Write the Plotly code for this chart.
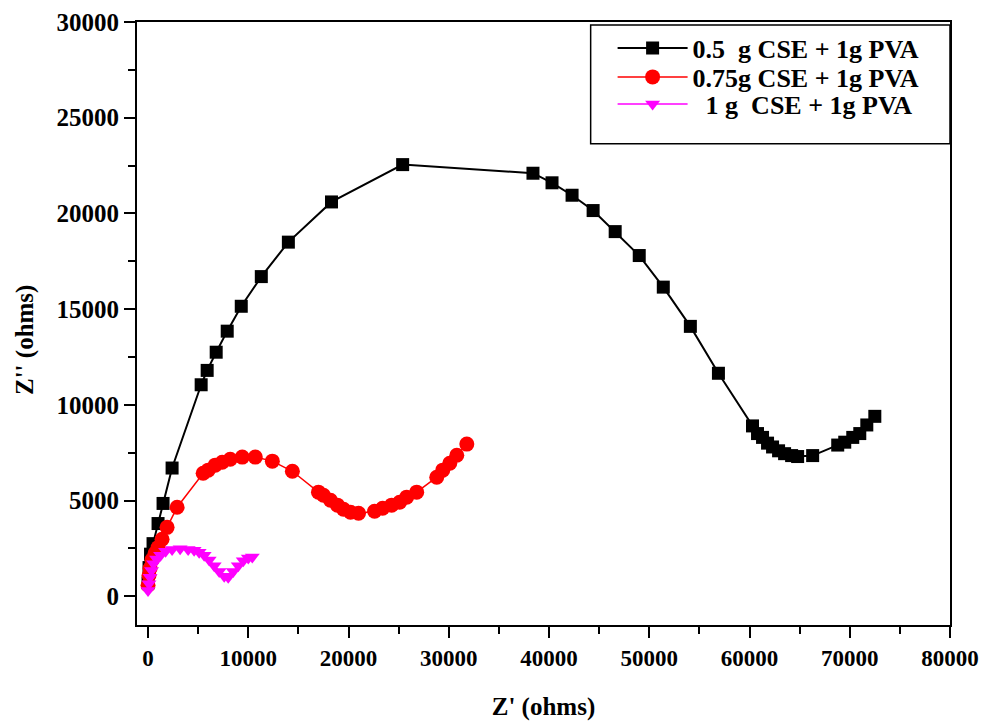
import plotly.graph_objects as go

# Series 1: 0.5 g CSE + 1g PVA
x_05 = [0, 100, 250, 500, 1000, 1500, 2400, 5300, 5900, 6800, 7900, 9300, 11300, 14000, 18300, 25400,
        38400, 40300, 42300, 44400, 46600, 49000, 51400, 54100, 56900, 60300, 60800, 61300, 61800, 62300,
        62900, 63500, 64200, 64800, 66300, 68800, 69500, 70300, 71000, 71700, 72500]
y_05 = [700, 1500, 2200, 2750, 3800, 4850, 6700, 11050, 11800, 12750, 13850, 15150, 16700, 18500, 20600, 22550,
        22100, 21600, 20950, 20150, 19050, 17800, 16150, 14100, 11650, 8900, 8500, 8300, 8000, 7800,
        7600, 7450, 7350, 7300, 7350, 7900, 8050, 8300, 8500, 8950, 9400]

# Series 2: 0.75g CSE + 1g PVA
x_075 = [0, 100, 200, 400, 700, 1000, 1400, 1900, 2900, 5500, 6000, 6700, 7400, 8200, 9400, 10700, 12400,
         14400, 17000, 17500, 18200, 18900, 19500, 20200, 21000, 22600, 23400, 24300, 25100, 25800, 26800,
         28800, 29400, 30100, 30800, 31800]
y_075 = [575, 1100, 1450, 1900, 2250, 2550, 2980, 3600, 4650, 6430, 6590, 6850, 7000, 7160, 7270, 7270, 7060,
         6530, 5440, 5280, 5020, 4760, 4550, 4390, 4340, 4440, 4600, 4760, 4910, 5180, 5440,
         6220, 6590, 6950, 7370, 7950]

# Series 3: 1 g CSE + 1g PVA
x_1 = [0, 100, 200, 350, 550, 850, 1250, 1750, 2400, 3200, 4000, 4600, 5100, 5600, 6100, 6600, 7100, 7600,
       8000, 8500, 9000, 9500, 10000, 10400]
y_1 = [300, 650, 1000, 1350, 1700, 1950, 2150, 2350, 2450, 2480, 2450, 2400, 2300, 2150, 1900, 1600, 1300, 1050,
       1000, 1300, 1600, 1850, 2000, 2050]

names = ["0.5\u00a0\u00a0g CSE + 1g PVA", "0.75g CSE + 1g PVA", "\u00a0\u00a01 g\u00a0\u00a0CSE + 1g PVA"]

x_ticks = [0, 10000, 20000, 30000, 40000, 50000, 60000, 70000, 80000]
y_ticks = [0, 5000, 10000, 15000, 20000, 25000, 30000]

FONT = "Liberation Serif"

fig = go.Figure()
fig.add_trace(go.Scatter(x=x_05, y=y_05, mode="lines+markers", name=names[0], legend="legend",
                         line=dict(color="black", width=2),
                         marker=dict(symbol="square", size=13, color="black")))
fig.add_trace(go.Scatter(x=x_075, y=y_075, mode="lines+markers", name=names[1], legend="legend2",
                         line=dict(color="#ff0000", width=1.5),
                         marker=dict(symbol="circle", size=15, color="#ff0000")))
fig.add_trace(go.Scatter(x=x_1, y=y_1, mode="lines+markers", name=names[2], legend="legend3",
                         line=dict(color="#ff00ff", width=1.5),
                         marker=dict(symbol="triangle-down", size=13, color="#ff00ff")))

axis_common = dict(showline=True, linecolor="black", linewidth=2, mirror=True,
                   ticks="outside", ticklen=11, tickwidth=2, tickcolor="black",
                   showgrid=False, zeroline=False, automargin=False)

fig.update_xaxes(range=[-1100, 80000], tickvals=x_ticks, ticktext=[str(v) for v in x_ticks],
                 minor=dict(ticks="outside", dtick=5000, tick0=0, ticklen=7, tickwidth=2, tickcolor="black"),
                 tickfont=dict(family=FONT, size=23, color="black", weight="bold"),
                 title=dict(text="Z' (ohms)", font=dict(family=FONT, size=25, color="black", weight="bold"),
                            standoff=30),
                 **axis_common)
fig.update_yaxes(range=[-1500, 30000], tickvals=y_ticks, ticktext=[str(v) for v in y_ticks],
                 minor=dict(ticks="outside", dtick=2500, tick0=0, ticklen=7, tickwidth=2, tickcolor="black"),
                 tickfont=dict(family=FONT, size=25, color="black", weight="bold"),
                 **axis_common)

leg_common = dict(xanchor="left", yanchor="middle", x=0.585, bgcolor="rgba(0,0,0,0)", borderwidth=0,
                  font=dict(family=FONT, size=26, color="black", weight="bold"), itemwidth=70)

def py(pix):
    return 1 - (pix - 22) / 603.0

fig.update_layout(
    width=988, height=721,
    margin=dict(l=137, r=38, t=22, b=96),
    paper_bgcolor="white", plot_bgcolor="white",
    font=dict(family=FONT, color="black"),
    showlegend=True,
    legend=dict(y=py(48), **leg_common),
    legend2=dict(y=py(77), **leg_common),
    legend3=dict(y=py(104), **leg_common),
    shapes=[dict(type="rect", xref="paper", yref="paper", x0=0.558, x1=1.0, y0=0.798, y1=0.995,
                 line=dict(color="black", width=1.5), fillcolor="rgba(0,0,0,0)")],
    annotations=[dict(text="Z'' (ohms)", textangle=-90, xref="paper", yref="paper",
                      x=(25 - 137) / 813.0, y=py(340), xanchor="center", yanchor="middle",
                      showarrow=False, font=dict(family=FONT, size=25, color="black", weight="bold"))],
)

fig.write_html("out.html")
